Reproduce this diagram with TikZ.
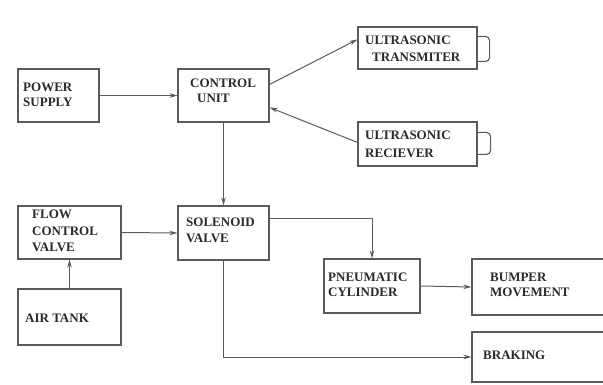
\documentclass[tikz,border=0pt]{standalone}
\usepackage{fontspec}
\setmainfont{Liberation Serif}
\usetikzlibrary{arrows.meta,calc}
\definecolor{lineg}{HTML}{5A5A5A}
\definecolor{textg}{HTML}{2A2A2A}
\tikzset{
  blk/.style={draw=lineg, line width=1.1pt, rectangle, anchor=center, inner sep=0pt},
  txt/.style={anchor=north west, inner sep=0pt, align=left, text=textg,
    font=\bfseries\fontsize{13}{#1}\selectfont},
  txt/.default=16,
  conn/.style={draw=lineg, line width=1pt, -{Stealth[length=8pt,width=4.5pt]}},
  cup/.style={draw=lineg, line width=1.1pt, rounded corners=4pt}
}
\begin{document}
\begin{tikzpicture}[x=1pt,y=-1pt]
\clip (0,0) rectangle (603,385);
\fill[white] (0,0) rectangle (603,385);
% boxes
\node[blk, minimum width=81pt, minimum height=53pt] (ps) at (58.5,95.5) {};
\node[blk, minimum width=91pt, minimum height=53pt] (cu) at (223.5,95.5) {};
\node[blk, minimum width=119pt, minimum height=42pt] (tx) at (417.5,48) {};
\node[blk, minimum width=119pt, minimum height=44pt] (rx) at (417.5,144) {};
\node[blk, minimum width=103pt, minimum height=53pt] (fcv) at (69.5,232.5) {};
\node[blk, minimum width=103pt, minimum height=56pt] (air) at (69.5,317) {};
\node[blk, minimum width=91pt, minimum height=54pt] (sv) at (223.5,233) {};
\node[blk, minimum width=96pt, minimum height=54pt] (pc) at (372,286) {};
\node[blk, minimum width=140pt, minimum height=56pt] (bm) at (542,287) {};
\node[blk, minimum width=140pt, minimum height=50pt] (br) at (542,357) {};
% texts
\node[txt=15] (psT) at (23,82.7) {POWER\\SUPPLY};
\node[txt=15] (cuT) at (190,78.7) {CONTROL\\\hspace{7pt}UNIT};
\node[txt=17] (txT) at (365,35.7) {ULTRASONIC\\\hspace{7pt}TRANSMITER};
\node[txt=18] (rxT) at (365,130.7) {ULTRASONIC\\RECIEVER};
\node[txt=16.5] (fcvT) at (32,209.7) {FLOW\\CONTROL\\VALVE};
\node[txt] (airT) at (25,313.7) {AIR TANK};
\node[txt=16] (svT) at (186,217.7) {SOLENOID\\VALVE};
\node[txt=15] (pcT) at (328,272.7) {PNEUMATIC\\CYLINDER};
\node[txt=15] (bmT) at (490,272.7) {BUMPER\\MOVEMENT};
\node[txt] (brT) at (483,350.7) {BRAKING};
% sensor cups
\draw[cup] ($(tx.north east)+(0,10)$) -- ++(12,0) -- ++(0,25) -- ++(-12,0);
\draw[cup] ($(rx.north east)+(0,11)$) -- ++(13,0) -- ++(0,22) -- ++(-13,0);
% connectors
\draw[conn] (ps.east) -- (cu.west);
\coordinate (cuA) at ($(cu.north east)+(0,16)$);
\coordinate (txA) at ($(tx.north west)+(0,13)$);
\draw[conn] (cuA) -- (txA);
\coordinate (rxA) at ($(rx.north west)+(0,21)$);
\coordinate (cuB) at ($(cu.north east)+(0,39)$);
\draw[conn] (rxA) -- (cuB);
\draw[conn] (cu.south) -- (sv.north);
\draw[conn] (fcv.east) -- (sv.west);
\draw[conn] (air.north) -- (fcv.south);
\coordinate (svA) at ($(sv.north east)+(0,13)$);
\draw[conn] (svA) -| (pc.north);
\draw[conn] (pc.east) -- (bm.west);
\draw[conn] (sv.south) |- (br.west);
\end{tikzpicture}
\end{document}
